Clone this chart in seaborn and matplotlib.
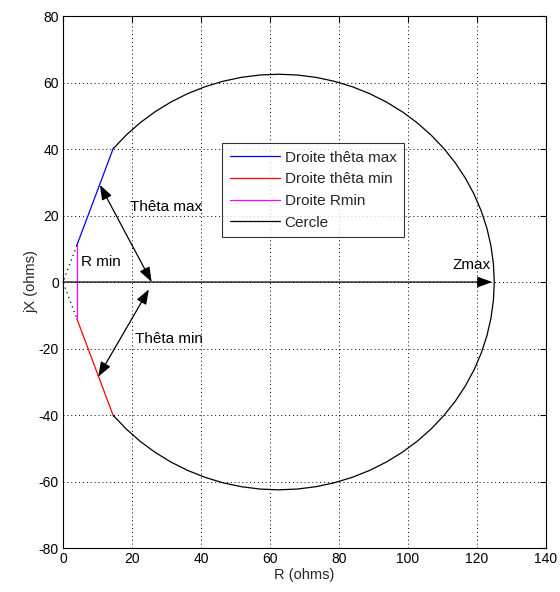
import numpy as np
import pandas as pd
import matplotlib
matplotlib.use("Agg")
import matplotlib.pyplot as plt
import seaborn as sns

# ---- data ----
theta_max_x = [4.0, 14.6]
theta_max_y = [11.0, 40.3]
theta_min_x = [4.0, 14.6]
theta_min_y = [-11.0, -40.3]
rmin_x = [4.0, 4.0]
rmin_y = [-11.0, 11.0]
dotted_x = [4.0, 0.0, 4.0]
dotted_y = [11.0, 0.0, -11.0]
zmax = 125.0
circle_angle_start = -140.0   # degrees
circle_angle_end = 140.0
circle_angles = np.linspace(circle_angle_start, circle_angle_end, 57)

legend_labels = ["Droite thêta max", "Droite thêta min", "Droite Rmin", "Cercle"]
x_ticks = [0, 20, 40, 60, 80, 100, 120, 140]
y_ticks = [-80, -60, -40, -20, 0, 20, 40, 60, 80]

# arrows (tail, head) and text labels
arrow_theta_max = [(10.7, 29.2), (25.7, 0.0)]
arrow_theta_min = [(10.2, -28.5), (24.9, -2.2)]
arrow_zmax = [(0.0, 0.0), (124.4, 0.0)]
texts = [("Thêta max", 19.3, 22.5), ("R min", 5.3, 6.0),
         ("Thêta min", 20.8, -17.0), ("Zmax", 112.8, 5.2)]

# ---- styling ----
sns.set_theme(style="white")
plt.rcParams['font.family'] = ['Liberation Sans', 'DejaVu Sans']
plt.rcParams['font.size'] = 10
plt.rcParams['axes.unicode_minus'] = False

fig = plt.figure(figsize=(5.6, 5.92), dpi=100)
ax = fig.add_axes([0.1125, 0.0743, 0.8625, 0.8986])

circ_x = zmax / 2 + zmax / 2 * np.cos(np.radians(circle_angles))
circ_y = zmax / 2 * np.sin(np.radians(circle_angles))

lw = 0.9
sns.lineplot(x=theta_max_x, y=theta_max_y, sort=False, estimator=None, color="#0000ff",
             lw=lw, ax=ax, label=legend_labels[0])
sns.lineplot(x=theta_min_x, y=theta_min_y, sort=False, estimator=None, color="#ff0000",
             lw=lw, ax=ax, label=legend_labels[1])
sns.lineplot(x=rmin_x, y=rmin_y, sort=False, estimator=None, color="#ff00ff",
             lw=lw, ax=ax, label=legend_labels[2])
sns.lineplot(x=circ_x, y=circ_y, sort=False, estimator=None, color="black",
             lw=lw, ax=ax, label=legend_labels[3])
sns.lineplot(x=dotted_x, y=dotted_y, sort=False, estimator=None, color="black",
             lw=lw, ls=(0, (1, 3)), ax=ax)

# arrows
for (tail, head) in [arrow_theta_max, arrow_theta_min]:
    ax.annotate("", xy=head, xytext=tail,
                arrowprops=dict(arrowstyle="<|-|>,head_length=0.9,head_width=0.33",
                                color="black", lw=0.9, shrinkA=0, shrinkB=0))
ax.annotate("", xy=arrow_zmax[1], xytext=arrow_zmax[0],
            arrowprops=dict(arrowstyle="-|>,head_length=0.9,head_width=0.33",
                            color="black", lw=0.9, shrinkA=0, shrinkB=0))

for s, x, y in texts:
    ax.text(x, y, s, fontsize=11, va="center", ha="left", color="black")

ax.set_xlim(0, 140)
ax.set_ylim(-80, 80)
ax.set_xticks(x_ticks)
ax.set_yticks(y_ticks)
ax.set_xlabel("R (ohms)", fontsize=10.5, labelpad=1)
ax.set_ylabel("jX (ohms)", fontsize=10.5, labelpad=0)
ax.grid(True, color="black", ls=(0, (1, 3)), lw=0.7)
ax.tick_params(direction="in", length=4, width=0.8, top=True, right=True,
               labelsize=10, colors="black", pad=3)
for sp in ax.spines.values():
    sp.set_color("black")
    sp.set_linewidth(0.8)

leg = ax.legend(loc="upper left", bbox_to_anchor=(0.329, 0.761), borderaxespad=0,
                frameon=True, fancybox=False, fontsize=11, handlelength=3.3,
                handletextpad=0.3, labelspacing=0.5, borderpad=0.5)
leg.get_frame().set_edgecolor("black")
leg.get_frame().set_linewidth(0.8)

fig.savefig("out.png", dpi=100)
